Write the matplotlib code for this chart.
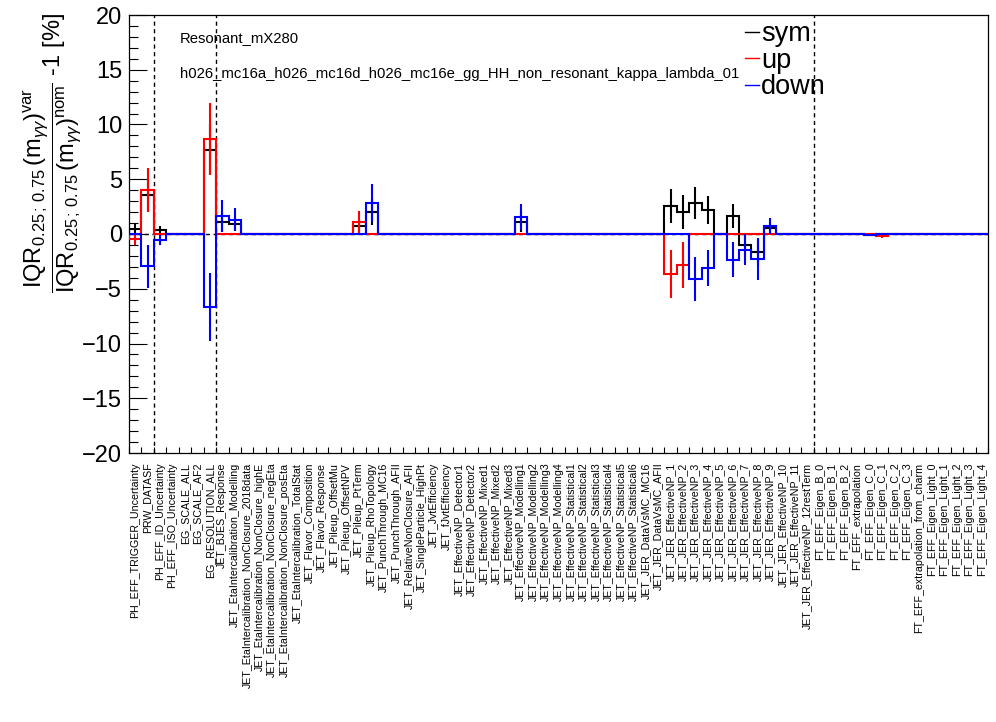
import numpy as np
import matplotlib
matplotlib.use('Agg')
import matplotlib.pyplot as plt
from matplotlib.lines import Line2D
from matplotlib.ticker import FixedLocator, MultipleLocator

plt.rcParams['font.family'] = ['Liberation Sans', 'DejaVu Sans']
plt.rcParams['mathtext.fontset'] = 'custom'
plt.rcParams['mathtext.rm'] = 'Liberation Sans'
plt.rcParams['mathtext.it'] = 'Liberation Sans:italic'
plt.rcParams['mathtext.bf'] = 'Liberation Sans:bold'

labels = [
    "PH_EFF_TRIGGER_Uncertainty", "PRW_DATASF", "PH_EFF_ID_Uncertainty", "PH_EFF_ISO_Uncertainty",
    "EG_SCALE_ALL", "EG_SCALE_AF2", "EG_RESOLUTION_ALL", "JET_BJES_Response",
    "JET_EtaIntercalibration_Modelling", "JET_EtaIntercalibration_NonClosure_2018data",
    "JET_EtaIntercalibration_NonClosure_highE", "JET_EtaIntercalibration_NonClosure_negEta",
    "JET_EtaIntercalibration_NonClosure_posEta", "JET_EtaIntercalibration_TotalStat",
    "JET_Flavor_Composition", "JET_Flavor_Response", "JET_Pileup_OffsetMu", "JET_Pileup_OffsetNPV",
    "JET_Pileup_PtTerm", "JET_Pileup_RhoTopology", "JET_PunchThrough_MC16", "JET_PunchThrough_AFII",
    "JET_RelativeNonClosure_AFII", "JET_SingleParticle_HighPt", "JET_JvtEfficiency", "JET_fJvtEfficiency",
    "JET_EffectiveNP_Detector1", "JET_EffectiveNP_Detector2", "JET_EffectiveNP_Mixed1",
    "JET_EffectiveNP_Mixed2", "JET_EffectiveNP_Mixed3", "JET_EffectiveNP_Modelling1",
    "JET_EffectiveNP_Modelling2", "JET_EffectiveNP_Modelling3", "JET_EffectiveNP_Modelling4",
    "JET_EffectiveNP_Statistical1", "JET_EffectiveNP_Statistical2", "JET_EffectiveNP_Statistical3",
    "JET_EffectiveNP_Statistical4", "JET_EffectiveNP_Statistical5", "JET_EffectiveNP_Statistical6",
    "JET_JER_DataVsMC_MC16", "JET_JER_DataVsMC_AFII", "JET_JER_EffectiveNP_1", "JET_JER_EffectiveNP_2",
    "JET_JER_EffectiveNP_3", "JET_JER_EffectiveNP_4", "JET_JER_EffectiveNP_5", "JET_JER_EffectiveNP_6",
    "JET_JER_EffectiveNP_7", "JET_JER_EffectiveNP_8", "JET_JER_EffectiveNP_9", "JET_JER_EffectiveNP_10",
    "JET_JER_EffectiveNP_11", "JET_JER_EffectiveNP_12restTerm", "FT_EFF_Eigen_B_0", "FT_EFF_Eigen_B_1",
    "FT_EFF_Eigen_B_2", "FT_EFF_extrapolation", "FT_EFF_Eigen_C_0", "FT_EFF_Eigen_C_1",
    "FT_EFF_Eigen_C_2", "FT_EFF_Eigen_C_3", "FT_EFF_extrapolation_from_charm", "FT_EFF_Eigen_Light_0",
    "FT_EFF_Eigen_Light_1", "FT_EFF_Eigen_Light_2", "FT_EFF_Eigen_Light_3", "FT_EFF_Eigen_Light_4",
]

#            1     2     3     4  5  6  7     8     9
sym     = [0.48, 3.56, 0.39, 0, 0, 0, 7.70, 1.10, 0.91,
           0, 0, 0, 0, 0, 0, 0, 0, 0,               # 10-18
           0.73, 2.00,                              # 19-20
           0, 0, 0, 0, 0, 0, 0, 0, 0, 0, 0,         # 21-31
           1.10,                                    # 32
           0, 0, 0, 0, 0, 0, 0, 0, 0, 0, 0,         # 33-43
           2.52, 2.00, 2.83, 2.19, 0, 1.65, -0.99, -1.63, 0.55,  # 44-52
           0, 0, 0, 0, 0, 0, 0,                     # 53-59
           -0.10, 0, 0, 0,                          # 60-63
           0, 0, 0, 0, 0, 0]                        # 64-69
sym_err = [0.53, 1.50, 0.37, 0, 0, 0, 2.30, 0.90, 0.65,
           0, 0, 0, 0, 0, 0, 0, 0, 0,
           0.60, 1.20,
           0, 0, 0, 0, 0, 0, 0, 0, 0, 0, 0,
           0.91,
           0, 0, 0, 0, 0, 0, 0, 0, 0, 0, 0,
           1.55, 1.52, 1.46, 1.25, 0, 1.10, 0.90, 1.20, 0.50,
           0, 0, 0, 0, 0, 0, 0,
           0.08, 0, 0, 0,
           0, 0, 0, 0, 0, 0]
up      = [-0.46, 4.02, 0, 0, 0, 0, 8.68, 0, 0,
           0, 0, 0, 0, 0, 0, 0, 0, 0,
           1.10, 0,
           0, 0, 0, 0, 0, 0, 0, 0, 0, 0, 0,
           0,
           0, 0, 0, 0, 0, 0, 0, 0, 0, 0, 0,
           -3.65, -2.83, 0, 0, 0, 0, 0, 0, 0,
           0, 0, 0, 0, 0, 0, 0,
           0, -0.20, 0, 0,
           0, 0, 0, 0, 0, 0]
up_err  = [0.50, 2.03, 0, 0, 0, 0, 3.30, 0, 0,
           0, 0, 0, 0, 0, 0, 0, 0, 0,
           1.03, 0,
           0, 0, 0, 0, 0, 0, 0, 0, 0, 0, 0,
           0,
           0, 0, 0, 0, 0, 0, 0, 0, 0, 0, 0,
           2.20, 2.13, 0, 0, 0, 0, 0, 0, 0,
           0, 0, 0, 0, 0, 0, 0,
           0, 0.15, 0, 0,
           0, 0, 0, 0, 0, 0]
down    = [0, -2.96, -0.55, 0, 0, 0, -6.67, 1.64, 1.31,
           0, 0, 0, 0, 0, 0, 0, 0, 0,
           0, 2.83,
           0, 0, 0, 0, 0, 0, 0, 0, 0, 0, 0,
           1.55,
           0, 0, 0, 0, 0, 0, 0, 0, 0, 0, 0,
           0, 0, -4.11, -3.11, 0, -2.36, -1.43, -2.28, 0.75,
           0, 0, 0, 0, 0, 0, 0,
           -0.10, 0, 0, 0,
           0, 0, 0, 0, 0, 0]
down_err = [0, 1.95, 0.46, 0, 0, 0, 3.10, 1.43, 1.07,
            0, 0, 0, 0, 0, 0, 0, 0, 0,
            0, 1.76,
            0, 0, 0, 0, 0, 0, 0, 0, 0, 0, 0,
            1.22,
            0, 0, 0, 0, 0, 0, 0, 0, 0, 0, 0,
            0, 0, 2.05, 1.68, 0, 1.60, 1.43, 1.93, 0.73,
            0, 0, 0, 0, 0, 0, 0,
            0.10, 0, 0, 0,
            0, 0, 0, 0, 0, 0]

series_names = ["sym", "up", "down"]
series_colors = ["black", "red", "blue"]
group_boundaries = [2, 7, 55]
title_lines = ["Resonant_mX280",
               "h026_mc16a_h026_mc16d_h026_mc16e_gg_HH_non_resonant_kappa_lambda_01"]

W, H = 996, 722
fig = plt.figure(figsize=(W / 100, H / 100), dpi=100)
ax = fig.add_axes([129 / W, 1 - 453 / H, (988 - 129) / W, (453 - 15) / H])

n = len(labels)
edges = np.arange(n + 1)
centers = edges[:-1] + 0.5

ax.axhline(0, color='black', ls=(0, (3, 2.5)), lw=1.0, zorder=1)
for xb in group_boundaries:
    ax.axvline(xb, color='black', ls=(0, (3, 2.5)), lw=1.0, zorder=1)

for i, (vals, errs, col) in enumerate([(sym, sym_err, series_colors[0]),
                                       (up, up_err, series_colors[1]),
                                       (down, down_err, series_colors[2])]):
    v = np.array(vals, float)
    e = np.array(errs, float)
    ax.stairs(v, edges, baseline=0, color=col, lw=1.5, zorder=2 + i)
    m = e > 0
    ax.errorbar(centers[m], v[m], yerr=e[m], fmt='none', ecolor=col,
                elinewidth=1.5, capsize=0, zorder=2 + i)

ax.set_xlim(0, n)
ax.set_ylim(-20, 20)

ax.xaxis.set_major_locator(FixedLocator(centers))
ax.set_xticklabels(labels, rotation=90, fontsize=7.7)
ax.xaxis.set_minor_locator(FixedLocator(edges))
ax.tick_params(axis='x', which='major', length=0, pad=7)
ax.tick_params(axis='x', which='minor', direction='in', length=4, width=0.8)

ax.yaxis.set_major_locator(MultipleLocator(5))
ax.yaxis.set_minor_locator(MultipleLocator(1))
ax.tick_params(axis='y', which='major', direction='in', length=13, width=0.8, labelsize=17, pad=5)
ax.tick_params(axis='y', which='minor', direction='in', length=6.5, width=0.8)
for s in ax.spines.values():
    s.set_linewidth(0.9)

ylabel = (r'$\dfrac{\mathrm{IQR}_{0.25\,;\,0.75}\,(\mathrm{m}_{\gamma\gamma})^{\mathrm{var}}}'
          r'{\mathrm{IQR}_{0.25\,;\,0.75}\,(\mathrm{m}_{\gamma\gamma})^{\mathrm{nom}}}$ -1 [%]')
fig.text(53 / W, 1 - 13 / H, ylabel, rotation=90, ha='center', va='top', fontsize=17)

fig.text(180 / W, 1 - 38 / H, title_lines[0], fontsize=10.7, ha='left', va='center')
fig.text(180 / W, 1 - 74 / H, title_lines[1], fontsize=10.7, ha='left', va='center')

handles = [Line2D([], [], color=c, lw=1) for c in series_colors]
leg = fig.legend(handles, series_names, loc='upper left',
                 bbox_to_anchor=(745 / W, 1 - 21 / H), frameon=False,
                 fontsize=19.5, handlelength=0.5, handletextpad=0.1,
                 labelspacing=0.02, borderpad=0, borderaxespad=0)

fig.savefig('out.png', dpi=100)
